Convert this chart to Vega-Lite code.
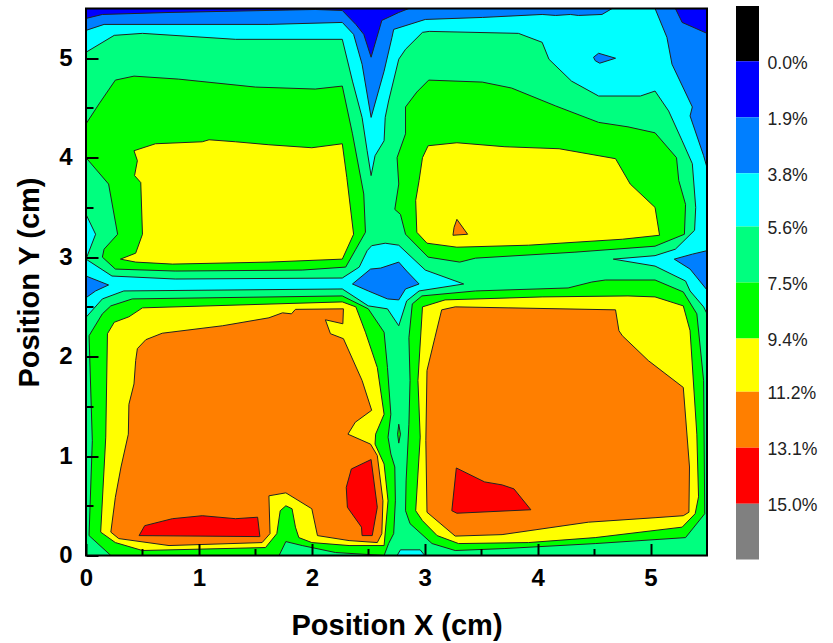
{"$schema":"https://vega.github.io/schema/vega-lite/v6.json","background":"white","padding":{"left":15,"top":5.5,"right":5,"bottom":5},"spacing":26,"config":{"font":"Liberation Sans"},"resolve":{"scale":{"fill":"independent"}},"hconcat":[{"width":621,"height":547,"layer":[{"data":{"values":[
{"g":1,"l":1,"x":0,"y":0},{"g":1,"l":1,"x":0,"y":5.5},{"g":1,"l":1,"x":5.5,"y":5.5},{"g":1,"l":1,"x":5.5,"y":0},{"g":1,"l":1,"x":0,"y":0},
{"g":2,"l":2,"x":0,"y":5.4},{"g":2,"l":2,"x":0.145,"y":5.44},{"g":2,"l":2,"x":0.735,"y":5.46},{"g":2,"l":2,"x":2.03,"y":5.49},{"g":2,"l":2,"x":2.27,"y":5.48},{"g":2,"l":2,"x":2.39,"y":5.34},{"g":2,"l":2,"x":2.46,"y":5.24},{"g":2,"l":2,"x":2.525,"y":5.01},{"g":2,"l":2,"x":2.62,"y":5.38},{"g":2,"l":2,"x":2.77,"y":5.46},{"g":2,"l":2,"x":2.86,"y":5.5},{"g":2,"l":2,"x":5.22,"y":5.5},{"g":2,"l":2,"x":5.28,"y":5.36},{"g":2,"l":2,"x":5.5,"y":5.25},{"g":2,"l":2,"x":5.5,"y":0},{"g":2,"l":2,"x":0,"y":0},{"g":2,"l":2,"x":0,"y":5.4},
{"g":3,"l":3,"x":0,"y":5.28},{"g":3,"l":3,"x":0.16,"y":5.34},{"g":3,"l":3,"x":0.735,"y":5.34},{"g":3,"l":3,"x":1.62,"y":5.34},{"g":3,"l":3,"x":2.27,"y":5.36},{"g":3,"l":3,"x":2.37,"y":5.24},{"g":3,"l":3,"x":2.445,"y":4.94},{"g":3,"l":3,"x":2.525,"y":4.405},{"g":3,"l":3,"x":2.64,"y":4.87},{"g":3,"l":3,"x":2.71,"y":5.21},{"g":3,"l":3,"x":2.725,"y":5.29},{"g":3,"l":3,"x":3.005,"y":5.39},{"g":3,"l":3,"x":3.51,"y":5.41},{"g":3,"l":3,"x":4.04,"y":5.44},{"g":3,"l":3,"x":4.16,"y":5.43},{"g":3,"l":3,"x":4.29,"y":5.44},{"g":3,"l":3,"x":4.36,"y":5.43},{"g":3,"l":3,"x":4.57,"y":5.44},{"g":3,"l":3,"x":4.66,"y":5.5},{"g":3,"l":3,"x":5.04,"y":5.5},{"g":3,"l":3,"x":5.145,"y":5.21},{"g":3,"l":3,"x":5.19,"y":4.94},{"g":3,"l":3,"x":5.37,"y":4.51},{"g":3,"l":3,"x":5.35,"y":4.42},{"g":3,"l":3,"x":5.47,"y":4.02},{"g":3,"l":3,"x":5.5,"y":3.9},{"g":3,"l":3,"x":5.5,"y":0},{"g":3,"l":3,"x":0,"y":0},{"g":3,"l":3,"x":0,"y":5.28},
{"g":4,"l":2,"x":0,"y":2.81},{"g":4,"l":2,"x":0.2,"y":2.72},{"g":4,"l":2,"x":0.085,"y":2.66},{"g":4,"l":2,"x":0.01,"y":2.6},{"g":4,"l":2,"x":0,"y":2.6},{"g":4,"l":2,"x":0,"y":2.81},
{"g":5,"l":2,"x":2.36,"y":2.73},{"g":5,"l":2,"x":2.52,"y":2.88},{"g":5,"l":2,"x":2.61,"y":2.89},{"g":5,"l":2,"x":2.77,"y":2.95},{"g":5,"l":2,"x":2.84,"y":2.86},{"g":5,"l":2,"x":2.95,"y":2.73},{"g":5,"l":2,"x":2.83,"y":2.68},{"g":5,"l":2,"x":2.77,"y":2.57},{"g":5,"l":2,"x":2.67,"y":2.58},{"g":5,"l":2,"x":2.5,"y":2.66},{"g":5,"l":2,"x":2.36,"y":2.73},
{"g":6,"l":2,"x":5.5,"y":3.065},{"g":6,"l":2,"x":5.37,"y":3.03},{"g":6,"l":2,"x":5.21,"y":2.98},{"g":6,"l":2,"x":5.35,"y":2.88},{"g":6,"l":2,"x":5.5,"y":2.67},{"g":6,"l":2,"x":5.5,"y":3.065},
{"g":7,"l":2,"x":4.495,"y":5.01},{"g":7,"l":2,"x":4.54,"y":5.05},{"g":7,"l":2,"x":4.69,"y":5.0},{"g":7,"l":2,"x":4.55,"y":4.95},{"g":7,"l":2,"x":4.51,"y":4.975},{"g":7,"l":2,"x":4.495,"y":5.01},
{"g":8,"l":4,"x":0,"y":5.06},{"g":8,"l":4,"x":0.25,"y":5.23},{"g":8,"l":4,"x":0.5,"y":5.25},{"g":8,"l":4,"x":1.325,"y":5.19},{"g":8,"l":4,"x":2.27,"y":5.19},{"g":8,"l":4,"x":2.36,"y":4.77},{"g":8,"l":4,"x":2.445,"y":4.405},{"g":8,"l":4,"x":2.49,"y":4.07},{"g":8,"l":4,"x":2.525,"y":3.82},{"g":8,"l":4,"x":2.56,"y":4.02},{"g":8,"l":4,"x":2.64,"y":4.17},{"g":8,"l":4,"x":2.65,"y":4.405},{"g":8,"l":4,"x":2.68,"y":4.57},{"g":8,"l":4,"x":2.77,"y":4.99},{"g":8,"l":4,"x":2.83,"y":5.09},{"g":8,"l":4,"x":2.98,"y":5.26},{"g":8,"l":4,"x":3.04,"y":5.27},{"g":8,"l":4,"x":3.83,"y":5.25},{"g":8,"l":4,"x":4.04,"y":5.16},{"g":8,"l":4,"x":4.1,"y":4.99},{"g":8,"l":4,"x":4.3,"y":4.77},{"g":8,"l":4,"x":4.54,"y":4.62},{"g":8,"l":4,"x":4.91,"y":4.62},{"g":8,"l":4,"x":5.04,"y":4.67},{"g":8,"l":4,"x":5.16,"y":4.47},{"g":8,"l":4,"x":5.28,"y":4.17},{"g":8,"l":4,"x":5.37,"y":3.94},{"g":8,"l":4,"x":5.4,"y":3.5},{"g":8,"l":4,"x":5.39,"y":3.27},{"g":8,"l":4,"x":5.22,"y":3.08},{"g":8,"l":4,"x":5.04,"y":3.015},{"g":8,"l":4,"x":4.67,"y":2.98},{"g":8,"l":4,"x":5.04,"y":2.91},{"g":8,"l":4,"x":5.31,"y":2.76},{"g":8,"l":4,"x":5.35,"y":2.66},{"g":8,"l":4,"x":5.47,"y":2.5},{"g":8,"l":4,"x":5.5,"y":2.43},{"g":8,"l":4,"x":5.5,"y":0},{"g":8,"l":4,"x":3.0,"y":0},{"g":8,"l":4,"x":2.96,"y":0.057},{"g":8,"l":4,"x":2.785,"y":0.057},{"g":8,"l":4,"x":2.755,"y":0},{"g":8,"l":4,"x":0,"y":0},{"g":8,"l":4,"x":0,"y":2.395},{"g":8,"l":4,"x":0.145,"y":2.58},{"g":8,"l":4,"x":0.335,"y":2.66},{"g":8,"l":4,"x":2.27,"y":2.68},{"g":8,"l":4,"x":2.5,"y":2.51},{"g":8,"l":4,"x":2.67,"y":2.48},{"g":8,"l":4,"x":2.77,"y":2.31},{"g":8,"l":4,"x":2.84,"y":2.56},{"g":8,"l":4,"x":2.95,"y":2.66},{"g":8,"l":4,"x":3.345,"y":2.73},{"g":8,"l":4,"x":3.005,"y":2.87},{"g":8,"l":4,"x":2.77,"y":3.12},{"g":8,"l":4,"x":2.65,"y":3.14},{"g":8,"l":4,"x":2.53,"y":3.115},{"g":8,"l":4,"x":2.49,"y":3.065},{"g":8,"l":4,"x":2.42,"y":2.9},{"g":8,"l":4,"x":2.27,"y":2.79},{"g":8,"l":4,"x":0.79,"y":2.78},{"g":8,"l":4,"x":0.23,"y":2.81},{"g":8,"l":4,"x":0,"y":2.98},{"g":8,"l":4,"x":0.085,"y":3.23},{"g":8,"l":4,"x":0,"y":3.43},{"g":8,"l":4,"x":0,"y":5.06},
{"g":9,"l":5,"x":2.76,"y":1.22},{"g":9,"l":5,"x":2.77,"y":1.32},{"g":9,"l":5,"x":2.785,"y":1.22},{"g":9,"l":5,"x":2.77,"y":1.13},{"g":9,"l":5,"x":2.76,"y":1.22},
{"g":10,"l":5,"x":0,"y":4.34},{"g":10,"l":5,"x":0.115,"y":4.54},{"g":10,"l":5,"x":0.26,"y":4.78},{"g":10,"l":5,"x":0.425,"y":4.82},{"g":10,"l":5,"x":0.82,"y":4.79},{"g":10,"l":5,"x":1.5,"y":4.71},{"g":10,"l":5,"x":2.03,"y":4.69},{"g":10,"l":5,"x":2.27,"y":4.72},{"g":10,"l":5,"x":2.36,"y":4.24},{"g":10,"l":5,"x":2.46,"y":3.635},{"g":10,"l":5,"x":2.475,"y":3.25},{"g":10,"l":5,"x":2.39,"y":3.08},{"g":10,"l":5,"x":2.3,"y":2.9},{"g":10,"l":5,"x":1.915,"y":2.87},{"g":10,"l":5,"x":0.79,"y":2.86},{"g":10,"l":5,"x":0.26,"y":2.88},{"g":10,"l":5,"x":0.145,"y":3.0},{"g":10,"l":5,"x":0.16,"y":3.08},{"g":10,"l":5,"x":0.28,"y":3.23},{"g":10,"l":5,"x":0.2,"y":3.735},{"g":10,"l":5,"x":0,"y":4.0},{"g":10,"l":5,"x":0,"y":4.34},
{"g":11,"l":5,"x":3.035,"y":4.78},{"g":11,"l":5,"x":3.51,"y":4.76},{"g":11,"l":5,"x":3.77,"y":4.7},{"g":11,"l":5,"x":4.16,"y":4.52},{"g":11,"l":5,"x":4.54,"y":4.355},{"g":11,"l":5,"x":4.8,"y":4.31},{"g":11,"l":5,"x":5.04,"y":4.25},{"g":11,"l":5,"x":5.23,"y":4.0},{"g":11,"l":5,"x":5.25,"y":3.77},{"g":11,"l":5,"x":5.31,"y":3.53},{"g":11,"l":5,"x":5.3,"y":3.23},{"g":11,"l":5,"x":5.04,"y":3.11},{"g":11,"l":5,"x":4.33,"y":3.05},{"g":11,"l":5,"x":3.45,"y":2.99},{"g":11,"l":5,"x":3.31,"y":2.95},{"g":11,"l":5,"x":3.03,"y":3.0},{"g":11,"l":5,"x":2.83,"y":3.23},{"g":11,"l":5,"x":2.785,"y":3.43},{"g":11,"l":5,"x":2.735,"y":3.48},{"g":11,"l":5,"x":2.77,"y":3.735},{"g":11,"l":5,"x":2.755,"y":4.0},{"g":11,"l":5,"x":2.83,"y":4.24},{"g":11,"l":5,"x":2.83,"y":4.51},{"g":11,"l":5,"x":2.93,"y":4.66},{"g":11,"l":5,"x":3.035,"y":4.78},
{"g":12,"l":5,"x":0.027,"y":2.21},{"g":12,"l":5,"x":0.145,"y":2.43},{"g":12,"l":5,"x":0.22,"y":2.51},{"g":12,"l":5,"x":0.41,"y":2.58},{"g":12,"l":5,"x":2.27,"y":2.61},{"g":12,"l":5,"x":2.5,"y":2.48},{"g":12,"l":5,"x":2.64,"y":2.245},{"g":12,"l":5,"x":2.67,"y":1.89},{"g":12,"l":5,"x":2.7,"y":1.42},{"g":12,"l":5,"x":2.675,"y":1.19},{"g":12,"l":5,"x":2.7,"y":1.02},{"g":12,"l":5,"x":2.735,"y":0.89},{"g":12,"l":5,"x":2.74,"y":0.55},{"g":12,"l":5,"x":2.725,"y":0.22},{"g":12,"l":5,"x":2.68,"y":0.12},{"g":12,"l":5,"x":2.64,"y":0},{"g":12,"l":5,"x":2.5,"y":0.01},{"g":12,"l":5,"x":2.21,"y":0.03},{"g":12,"l":5,"x":1.915,"y":0.1},{"g":12,"l":5,"x":1.77,"y":0.14},{"g":12,"l":5,"x":1.71,"y":0},{"g":12,"l":5,"x":0.22,"y":0},{"g":12,"l":5,"x":0.027,"y":0.2},{"g":12,"l":5,"x":0.056,"y":1.155},{"g":12,"l":5,"x":0.027,"y":2.21},
{"g":13,"l":5,"x":2.975,"y":2.61},{"g":13,"l":5,"x":3.45,"y":2.66},{"g":13,"l":5,"x":4.27,"y":2.69},{"g":13,"l":5,"x":4.48,"y":2.75},{"g":13,"l":5,"x":4.6,"y":2.77},{"g":13,"l":5,"x":5.04,"y":2.77},{"g":13,"l":5,"x":5.29,"y":2.65},{"g":13,"l":5,"x":5.41,"y":2.43},{"g":13,"l":5,"x":5.47,"y":1.76},{"g":13,"l":5,"x":5.48,"y":0.42},{"g":13,"l":5,"x":5.31,"y":0.18},{"g":13,"l":5,"x":4.51,"y":0.12},{"g":13,"l":5,"x":3.71,"y":0.07},{"g":13,"l":5,"x":3.27,"y":0.05},{"g":13,"l":5,"x":3.065,"y":0.12},{"g":13,"l":5,"x":2.87,"y":0.32},{"g":13,"l":5,"x":2.83,"y":0.45},{"g":13,"l":5,"x":2.835,"y":0.75},{"g":13,"l":5,"x":2.86,"y":1.32},{"g":13,"l":5,"x":2.87,"y":1.76},{"g":13,"l":5,"x":2.86,"y":2.19},{"g":13,"l":5,"x":2.89,"y":2.53},{"g":13,"l":5,"x":2.975,"y":2.61},
{"g":14,"l":6,"x":0.425,"y":4.07},{"g":14,"l":6,"x":0.615,"y":4.14},{"g":14,"l":6,"x":1.03,"y":4.16},{"g":14,"l":6,"x":1.09,"y":4.18},{"g":14,"l":6,"x":1.325,"y":4.16},{"g":14,"l":6,"x":1.62,"y":4.13},{"g":14,"l":6,"x":2.0,"y":4.1},{"g":14,"l":6,"x":2.27,"y":4.14},{"g":14,"l":6,"x":2.31,"y":3.8},{"g":14,"l":6,"x":2.37,"y":3.23},{"g":14,"l":6,"x":2.27,"y":2.98},{"g":14,"l":6,"x":1.62,"y":2.95},{"g":14,"l":6,"x":0.765,"y":2.93},{"g":14,"l":6,"x":0.44,"y":2.95},{"g":14,"l":6,"x":0.305,"y":2.98},{"g":14,"l":6,"x":0.44,"y":3.04},{"g":14,"l":6,"x":0.5,"y":3.23},{"g":14,"l":6,"x":0.485,"y":3.75},{"g":14,"l":6,"x":0.43,"y":3.82},{"g":14,"l":6,"x":0.455,"y":3.97},{"g":14,"l":6,"x":0.425,"y":4.07},
{"g":15,"l":6,"x":3.03,"y":4.12},{"g":15,"l":6,"x":3.285,"y":4.15},{"g":15,"l":6,"x":3.71,"y":4.11},{"g":15,"l":6,"x":4.19,"y":4.09},{"g":15,"l":6,"x":4.69,"y":3.99},{"g":15,"l":6,"x":4.82,"y":3.735},{"g":15,"l":6,"x":5.04,"y":3.5},{"g":15,"l":6,"x":5.08,"y":3.22},{"g":15,"l":6,"x":4.75,"y":3.18},{"g":15,"l":6,"x":3.92,"y":3.12},{"g":15,"l":6,"x":3.285,"y":3.1},{"g":15,"l":6,"x":3.02,"y":3.14},{"g":15,"l":6,"x":2.93,"y":3.25},{"g":15,"l":6,"x":2.92,"y":3.57},{"g":15,"l":6,"x":2.95,"y":3.77},{"g":15,"l":6,"x":2.98,"y":4.0},{"g":15,"l":6,"x":3.03,"y":4.12},
{"g":16,"l":6,"x":0.19,"y":2.23},{"g":16,"l":6,"x":0.25,"y":2.345},{"g":16,"l":6,"x":0.38,"y":2.4},{"g":16,"l":6,"x":0.5,"y":2.49},{"g":16,"l":6,"x":2.27,"y":2.55},{"g":16,"l":6,"x":2.39,"y":2.5},{"g":16,"l":6,"x":2.475,"y":2.245},{"g":16,"l":6,"x":2.58,"y":1.89},{"g":16,"l":6,"x":2.64,"y":1.42},{"g":16,"l":6,"x":2.565,"y":1.22},{"g":16,"l":6,"x":2.56,"y":1.12},{"g":16,"l":6,"x":2.64,"y":0.92},{"g":16,"l":6,"x":2.675,"y":0.55},{"g":16,"l":6,"x":2.64,"y":0.1},{"g":16,"l":6,"x":2.33,"y":0.1},{"g":16,"l":6,"x":2.0,"y":0.13},{"g":16,"l":6,"x":1.885,"y":0.18},{"g":16,"l":6,"x":1.855,"y":0.285},{"g":16,"l":6,"x":1.825,"y":0.47},{"g":16,"l":6,"x":1.77,"y":0.5},{"g":16,"l":6,"x":1.72,"y":0.45},{"g":16,"l":6,"x":1.69,"y":0.22},{"g":16,"l":6,"x":1.59,"y":0.08},{"g":16,"l":6,"x":0.5,"y":0.05},{"g":16,"l":6,"x":0.26,"y":0.13},{"g":16,"l":6,"x":0.13,"y":0.235},{"g":16,"l":6,"x":0.175,"y":1.19},{"g":16,"l":6,"x":0.19,"y":2.23},
{"g":17,"l":6,"x":2.98,"y":2.5},{"g":17,"l":6,"x":3.18,"y":2.57},{"g":17,"l":6,"x":4.04,"y":2.6},{"g":17,"l":6,"x":4.8,"y":2.61},{"g":17,"l":6,"x":5.04,"y":2.6},{"g":17,"l":6,"x":5.29,"y":2.51},{"g":17,"l":6,"x":5.35,"y":2.26},{"g":17,"l":6,"x":5.41,"y":1.22},{"g":17,"l":6,"x":5.425,"y":0.59},{"g":17,"l":6,"x":5.395,"y":0.42},{"g":17,"l":6,"x":5.28,"y":0.285},{"g":17,"l":6,"x":4.51,"y":0.18},{"g":17,"l":6,"x":3.92,"y":0.13},{"g":17,"l":6,"x":3.3,"y":0.12},{"g":17,"l":6,"x":3.11,"y":0.2},{"g":17,"l":6,"x":2.98,"y":0.35},{"g":17,"l":6,"x":2.92,"y":0.45},{"g":17,"l":6,"x":2.96,"y":1.19},{"g":17,"l":6,"x":2.94,"y":1.76},{"g":17,"l":6,"x":2.98,"y":2.5},
{"g":18,"l":7,"x":0.455,"y":2.08},{"g":18,"l":7,"x":0.53,"y":2.17},{"g":18,"l":7,"x":0.675,"y":2.235},{"g":18,"l":7,"x":1.21,"y":2.31},{"g":18,"l":7,"x":1.62,"y":2.39},{"g":18,"l":7,"x":1.74,"y":2.44},{"g":18,"l":7,"x":1.82,"y":2.43},{"g":18,"l":7,"x":1.855,"y":2.475},{"g":18,"l":7,"x":2.28,"y":2.48},{"g":18,"l":7,"x":2.275,"y":2.33},{"g":18,"l":7,"x":2.12,"y":2.37},{"g":18,"l":7,"x":2.165,"y":2.23},{"g":18,"l":7,"x":2.28,"y":2.18},{"g":18,"l":7,"x":2.445,"y":1.76},{"g":18,"l":7,"x":2.53,"y":1.46},{"g":18,"l":7,"x":2.385,"y":1.34},{"g":18,"l":7,"x":2.32,"y":1.22},{"g":18,"l":7,"x":2.52,"y":1.12},{"g":18,"l":7,"x":2.58,"y":1.005},{"g":18,"l":7,"x":2.63,"y":0.55},{"g":18,"l":7,"x":2.62,"y":0.22},{"g":18,"l":7,"x":2.58,"y":0.13},{"g":18,"l":7,"x":2.33,"y":0.15},{"g":18,"l":7,"x":2.05,"y":0.2},{"g":18,"l":7,"x":2.0,"y":0.47},{"g":18,"l":7,"x":1.77,"y":0.63},{"g":18,"l":7,"x":1.62,"y":0.6},{"g":18,"l":7,"x":1.63,"y":0.22},{"g":18,"l":7,"x":1.56,"y":0.13},{"g":18,"l":7,"x":0.735,"y":0.1},{"g":18,"l":7,"x":0.29,"y":0.17},{"g":18,"l":7,"x":0.22,"y":0.235},{"g":18,"l":7,"x":0.26,"y":0.585},{"g":18,"l":7,"x":0.31,"y":0.89},{"g":18,"l":7,"x":0.375,"y":1.22},{"g":18,"l":7,"x":0.38,"y":1.52},{"g":18,"l":7,"x":0.425,"y":1.725},{"g":18,"l":7,"x":0.44,"y":1.96},{"g":18,"l":7,"x":0.455,"y":2.08},
{"g":19,"l":7,"x":3.15,"y":2.47},{"g":19,"l":7,"x":3.27,"y":2.5},{"g":19,"l":7,"x":4.69,"y":2.47},{"g":19,"l":7,"x":4.72,"y":2.26},{"g":19,"l":7,"x":4.75,"y":2.21},{"g":19,"l":7,"x":4.98,"y":1.96},{"g":19,"l":7,"x":5.29,"y":1.69},{"g":19,"l":7,"x":5.345,"y":0.89},{"g":19,"l":7,"x":5.34,"y":0.435},{"g":19,"l":7,"x":5.29,"y":0.4},{"g":19,"l":7,"x":5.04,"y":0.38},{"g":19,"l":7,"x":4.45,"y":0.335},{"g":19,"l":7,"x":3.685,"y":0.21},{"g":19,"l":7,"x":3.27,"y":0.195},{"g":19,"l":7,"x":3.02,"y":0.435},{"g":19,"l":7,"x":3.01,"y":1.155},{"g":19,"l":7,"x":3.02,"y":1.86},{"g":19,"l":7,"x":3.09,"y":2.19},{"g":19,"l":7,"x":3.15,"y":2.47},
{"g":20,"l":7,"x":3.285,"y":3.38},{"g":20,"l":7,"x":3.38,"y":3.23},{"g":20,"l":7,"x":3.25,"y":3.22},{"g":20,"l":7,"x":3.26,"y":3.3},{"g":20,"l":7,"x":3.285,"y":3.38},
{"g":21,"l":8,"x":0.47,"y":0.2},{"g":21,"l":8,"x":0.52,"y":0.3},{"g":21,"l":8,"x":0.765,"y":0.37},{"g":21,"l":8,"x":1.03,"y":0.4},{"g":21,"l":8,"x":1.325,"y":0.37},{"g":21,"l":8,"x":1.52,"y":0.385},{"g":21,"l":8,"x":1.54,"y":0.19},{"g":21,"l":8,"x":0.47,"y":0.2},
{"g":22,"l":8,"x":2.35,"y":0.87},{"g":22,"l":8,"x":2.525,"y":0.965},{"g":22,"l":8,"x":2.58,"y":0.485},{"g":22,"l":8,"x":2.535,"y":0.2},{"g":22,"l":8,"x":2.445,"y":0.2},{"g":22,"l":8,"x":2.44,"y":0.285},{"g":22,"l":8,"x":2.315,"y":0.485},{"g":22,"l":8,"x":2.305,"y":0.685},{"g":22,"l":8,"x":2.35,"y":0.87},
{"g":23,"l":8,"x":3.28,"y":0.88},{"g":23,"l":8,"x":3.53,"y":0.74},{"g":23,"l":8,"x":3.685,"y":0.71},{"g":23,"l":8,"x":3.79,"y":0.67},{"g":23,"l":8,"x":3.94,"y":0.46},{"g":23,"l":8,"x":3.285,"y":0.425},{"g":23,"l":8,"x":3.24,"y":0.45},{"g":23,"l":8,"x":3.28,"y":0.88}
]},"mark":{"type":"line","stroke":"#222222","strokeWidth":1,"strokeJoin":"miter"},"encoding":{"x":{"field":"x","type":"quantitative","scale":{"domain":[0,5.5],"nice":false},"axis":{"orient":"bottom","values":[0,1,2,3,4,5],"format":"d","grid":false,"domain":false,"tickSize":-12,"tickWidth":2,"tickColor":"#000","zindex":1,"labelFont":"Liberation Sans","labelFontWeight":"bold","labelFontSize":24,"labelColor":"#000","labelPadding":23,"labelFlush":false,"labelOverlap":false,"title":"Position X (cm)","titleFont":"Liberation Sans","titleFontSize":29,"titleFontWeight":"bold","titleColor":"#000","titlePadding":21}},"y":{"field":"y","type":"quantitative","scale":{"domain":[0,5.5],"nice":false},"axis":{"orient":"left","values":[0,1,2,3,4,5],"format":"d","grid":false,"domain":false,"tickSize":-12,"tickWidth":2,"tickColor":"#000","zindex":1,"labelFont":"Liberation Sans","labelFontWeight":"bold","labelFontSize":24,"labelColor":"#000","labelPadding":26,"labelFlush":false,"labelOverlap":false,"title":"Position Y (cm)","titleFont":"Liberation Sans","titleFontSize":29,"titleFontWeight":"bold","titleColor":"#000","titlePadding":14}},"detail":{"field":"g"},"order":{"value":null},"fill":{"field":"l","type":"ordinal","legend":null,"scale":{"domain":[1,2,3,4,5,6,7,8],"range":["#0000ff","#007fff","#00ffff","#00ff7f","#00ff00","#ffff00","#ff7f00","#ff0000"]}}}},{"data":{"values":[{"x":0,"x2":5.5,"y":0,"y2":5.5}]},"mark":{"type":"rect","fill":null,"stroke":"#000","strokeWidth":2},"encoding":{"x":{"field":"x","type":"quantitative","scale":{"domain":[0,5.5],"nice":false},"axis":{"orient":"bottom","values":[0.5,1.5,2.5,3.5,4.5],"grid":false,"domain":false,"labels":false,"title":null,"tickSize":-7,"tickWidth":2,"tickColor":"#000","zindex":1}},"x2":{"field":"x2"},"y":{"field":"y","type":"quantitative","scale":{"domain":[0,5.5],"nice":false},"axis":{"orient":"left","values":[0.5,1.5,2.5,3.5,4.5],"grid":false,"domain":false,"labels":false,"title":null,"tickSize":-7,"tickWidth":2,"tickColor":"#000","zindex":1}},"y2":{"field":"y2"}}}],"resolve":{"axis":{"x":"independent","y":"independent"}}},{"width":23,"height":551,"view":{"stroke":null},"data":{"values":[{"lo":-1.871,"hi":0,"l":0},{"lo":0,"hi":1.9,"l":1},{"lo":1.9,"hi":3.8,"l":2},{"lo":3.8,"hi":5.6,"l":3},{"lo":5.6,"hi":7.5,"l":4},{"lo":7.5,"hi":9.4,"l":5},{"lo":9.4,"hi":11.2,"l":6},{"lo":11.2,"hi":13.1,"l":7},{"lo":13.1,"hi":15,"l":8},{"lo":15,"hi":16.89,"l":9}]},"mark":{"type":"rect"},"encoding":{"y":{"field":"lo","type":"quantitative","scale":{"domain":[-1.786,16.89],"reverse":true,"nice":false,"zero":false},"axis":{"orient":"right","title":null,"domain":false,"ticks":false,"grid":false,"values":[0,1.9,3.8,5.6,7.5,9.4,11.2,13.1,15],"labelExpr":"format(datum.value,'.1f')+'%'","labelFont":"Liberation Sans","labelFontSize":17.6,"labelColor":"#222","labelPadding":8,"labelOffset":2,"labelFlush":false,"labelOverlap":false}},"y2":{"field":"hi"},"fill":{"field":"l","type":"ordinal","legend":null,"scale":{"domain":[0,1,2,3,4,5,6,7,8,9],"range":["#000000","#0000ff","#007fff","#00ffff","#00ff7f","#00ff00","#ffff00","#ff7f00","#ff0000","#808080"]}}}}]}
